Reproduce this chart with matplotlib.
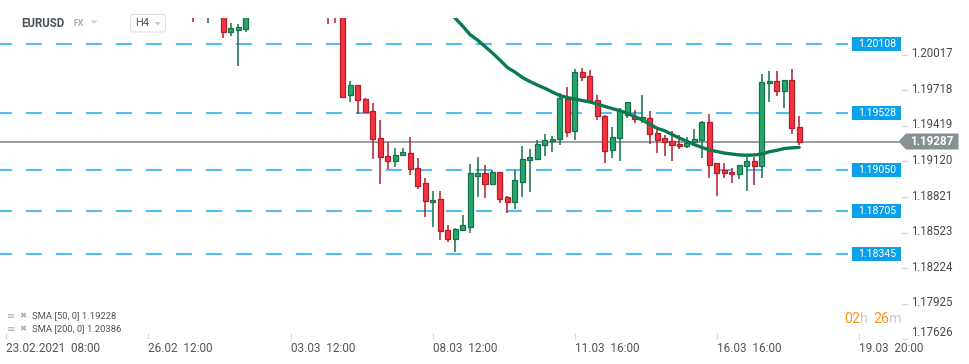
"""
EURUSD H4 candlestick chart with SMA(50), horizontal levels and right price scale.
"""

import matplotlib
matplotlib.use("Agg")
import matplotlib.pyplot as plt
import matplotlib.transforms as mtransforms
from matplotlib.patches import Polygon, Rectangle, FancyBboxPatch

plt.rcParams["font.family"] = ["Roboto", "DejaVu Sans"]

W, H, DPI = 970, 364, 100

# ---- data ---------------------------------------------------------------
SYMBOL   = "EURUSD"
MARKET   = "FX"
INTERVAL = "H4"

OPEN = [1.20450, 1.20335, 1.20340, 1.20430, 1.20400, 1.20206, 1.20226, 1.20231, 1.20390, 1.20480,
        1.20600, 1.20560, 1.20650, 1.20620, 1.20500, 1.20540, 1.20420, 1.20470, 1.20440, 1.20360,
        1.20345, 1.19680, 1.19759, 1.19641, 1.19541, 1.19314, 1.19163, 1.19126, 1.19171, 1.19188,
        1.19062, 1.18936, 1.18777, 1.18802, 1.18542, 1.18471, 1.18547, 1.18572, 1.19000, 1.19020,
        1.18933, 1.19029, 1.18819, 1.18777, 1.18950, 1.19129, 1.19143, 1.19255, 1.19289, 1.19306,
        1.19644, 1.19373, 1.19868, 1.19834, 1.19633, 1.19499, 1.19213, 1.19314, 1.19507, 1.19499,
        1.19465, 1.19482, 1.19356, 1.19314, 1.19289, 1.19263, 1.19247, 1.19280, 1.19297, 1.19448,
        1.19104, 1.19045, 1.19029, 1.19012, 1.19079, 1.19121, 1.19079, 1.19776, 1.19792, 1.19708,
        1.19801, 1.19406]
HIGH = [1.20500, 1.20460, 1.20480, 1.20510, 1.20440, 1.20282, 1.20273, 1.20450, 1.20520, 1.20640,
        1.20710, 1.20690, 1.20780, 1.20660, 1.20590, 1.20570, 1.20500, 1.20520, 1.20480, 1.20420,
        1.20390, 1.19795, 1.19762, 1.19650, 1.19608, 1.19468, 1.19283, 1.19230, 1.19230, 1.19325,
        1.19146, 1.18978, 1.18869, 1.18869, 1.18584, 1.18558, 1.18668, 1.19096, 1.19154, 1.19087,
        1.19045, 1.19032, 1.18827, 1.19045, 1.19249, 1.19222, 1.19297, 1.19347, 1.19331, 1.19692,
        1.19742, 1.19893, 1.19902, 1.19885, 1.19675, 1.19507, 1.19406, 1.19566, 1.19620, 1.19549,
        1.19675, 1.19541, 1.19381, 1.19339, 1.19373, 1.19339, 1.19322, 1.19389, 1.19457, 1.19515,
        1.19106, 1.19104, 1.19062, 1.19090, 1.19154, 1.19154, 1.19851, 1.19876, 1.19876, 1.19804,
        1.19893, 1.19499]
LOW = [1.20290, 1.20330, 1.20282, 1.20360, 1.20156, 1.20173, 1.19921, 1.20206, 1.20350, 1.20440,
       1.20530, 1.20510, 1.20580, 1.20470, 1.20420, 1.20380, 1.20360, 1.20340, 1.20273, 1.20282,
       1.19661, 1.19621, 1.19520, 1.19535, 1.19143, 1.18933, 1.19059, 1.19076, 1.19169, 1.19008,
       1.18891, 1.18656, 1.18572, 1.18463, 1.18446, 1.18362, 1.18538, 1.18521, 1.18824, 1.18815,
       1.18930, 1.18773, 1.18689, 1.18723, 1.18824, 1.18866, 1.19138, 1.19163, 1.19196, 1.19255,
       1.19322, 1.19297, 1.19792, 1.19622, 1.19465, 1.19104, 1.19146, 1.19121, 1.19482, 1.19440,
       1.19440, 1.19263, 1.19188, 1.19163, 1.19121, 1.19222, 1.19230, 1.19278, 1.19146, 1.18978,
       1.18827, 1.18978, 1.18936, 1.18970, 1.18869, 1.18919, 1.18978, 1.19616, 1.19666, 1.19566,
       1.19347, 1.19255]
CLOSE = [1.20335, 1.20420, 1.20430, 1.20400, 1.20206, 1.20237, 1.20248, 1.20390, 1.20480, 1.20600,
         1.20560, 1.20650, 1.20620, 1.20500, 1.20540, 1.20420, 1.20470, 1.20380, 1.20360, 1.20340,
         1.19663, 1.19759, 1.19633, 1.19537, 1.19306, 1.19154, 1.19126, 1.19171, 1.19196, 1.19054,
         1.18916, 1.18785, 1.18793, 1.18533, 1.18471, 1.18555, 1.18584, 1.19020, 1.19020, 1.18933,
         1.19029, 1.18807, 1.18777, 1.18961, 1.19138, 1.19154, 1.19263, 1.19297, 1.19306, 1.19650,
         1.19364, 1.19868, 1.19826, 1.19625, 1.19499, 1.19205, 1.19322, 1.19549, 1.19616, 1.19473,
         1.19490, 1.19347, 1.19297, 1.19280, 1.19255, 1.19247, 1.19272, 1.19306, 1.19448, 1.19087,
         1.19020, 1.19020, 1.19012, 1.19087, 1.19121, 1.19079, 1.19784, 1.19792, 1.19708, 1.19801,
         1.19398, 1.19287]

SMA50_START = 34
SMA50 = [1.20391, 1.20324, 1.20257, 1.20185, 1.20139, 1.20085, 1.20030, 1.19971, 1.19908, 1.19870,
         1.19824, 1.19791, 1.19761, 1.19734, 1.19703, 1.19673, 1.19656, 1.19644, 1.19631, 1.19619,
         1.19602, 1.19582, 1.19564, 1.19547, 1.19524, 1.19497, 1.19468, 1.19434, 1.19398, 1.19378,
         1.19346, 1.19316, 1.19289, 1.19260, 1.19238, 1.19216, 1.19203, 1.19190, 1.19182, 1.19174,
         1.19172, 1.19174, 1.19182, 1.19201, 1.19213, 1.19228, 1.19234, 1.19238]

LEVELS = [1.20108, 1.19528, 1.19050, 1.18705, 1.18345]
YTICKS = [1.20017, 1.19718, 1.19419, 1.19120, 1.18821, 1.18523, 1.18224, 1.17925, 1.17626]
XTICK_POS = [-25, -6, 13, 32, 51, 70, 89]
XTICK_LABELS = ["23.02.2021  08:00", "26.02  12:00", "03.03  12:00", "08.03  12:00",
                "11.03  16:00", "16.03  16:00", "19.03  20:00"]
LEGEND_ROWS = ["SMA [50, 0] 1.19228", "SMA [200, 0] 1.20386"]
COUNTDOWN = [("02", "#f7941d"), ("h", "#c5cacd"), ("26", "#f7941d"), ("m", "#c5cacd")]

# ---- style --------------------------------------------------------------
X_MIN, X_MAX = -25.84, 95.15
Y_MIN, Y_MAX = 1.17629, 1.20324
BODY_W = 0.67

C_UP, C_UP_EDGE = "#27a66b", "#16704a"
C_DN, C_DN_EDGE = "#f5333f", "#b01e2c"
C_SMA   = "#0c7a51"
C_LEVEL = "#52bdf2"
C_LBOX  = "#0ca0ea"
C_LAST  = "#879093"
C_TEXT  = "#4a4a4a"


def main():
    fig = plt.figure(figsize=(W / DPI, H / DPI), dpi=DPI)
    fig.patch.set_facecolor("white")
    PX = mtransforms.Affine2D().scale(1 / W, -1 / H).translate(0, 1) + fig.transFigure

    ax = fig.add_axes([0, 1 - 339 / H, 905 / W, 321 / H])
    ax.set_xlim(X_MIN, X_MAX)
    ax.set_ylim(Y_MIN, Y_MAX)
    for s in ax.spines.values():
        s.set_visible(False)

    def level_px(v):
        return H - ax.transData.transform((0, v))[1]

    # horizontal levels
    ax.hlines(LEVELS, 0, 848 / 905, transform=ax.get_yaxis_transform(),
              colors=C_LEVEL, lw=1.5, linestyles=[(2, (7.7, 6.7))], zorder=1)
    ax.axhline(CLOSE[-1], color=C_LAST, lw=1.2, zorder=1.5)

    # candles
    xs = list(range(len(OPEN)))
    up = [c >= o for o, c in zip(OPEN, CLOSE)]
    ax.vlines(xs, LOW, HIGH, colors=[C_UP_EDGE if u else C_DN_EDGE for u in up], lw=1.1, zorder=2)
    ax.bar(xs, [abs(c - o) for o, c in zip(OPEN, CLOSE)],
           bottom=[min(o, c) for o, c in zip(OPEN, CLOSE)], width=BODY_W,
           color=[C_UP if u else C_DN for u in up],
           edgecolor=[C_UP_EDGE if u else C_DN_EDGE for u in up], lw=0.9, zorder=3)

    # SMA 50
    ax.plot(range(SMA50_START, SMA50_START + len(SMA50)), SMA50, color=C_SMA, lw=2.4,
            solid_capstyle="round", zorder=4)

    # x axis
    ax.set_xticks(XTICK_POS)
    ax.set_xticklabels(XTICK_LABELS, ha="left")
    ax.tick_params(axis="x", direction="in", length=4, color="#d5d9db", labelsize=8.5,
                   labelcolor="#555555", pad=2)
    ax.set_yticks([])

    # right price scale
    for v in YTICKS:
        y = min(level_px(v) - 1, 333)
        fig.add_artist(plt.Line2D([902, 907], [level_px(v), level_px(v)], transform=PX,
                                  color="#d5d9db", lw=1))
        fig.text(911, y, f"{v:.5f}", transform=PX, fontsize=8.3, color=C_TEXT, va="center")

    for v in LEVELS:
        y = level_px(v)
        fig.add_artist(Rectangle((852.5, y - 7.2), 48.5, 14.4, transform=PX, fc=C_LBOX, ec="none"))
        fig.text(876.8, y, f"{v:.5f}", transform=PX, fontsize=7.6, color="white",
                 ha="center", va="center")

    y = level_px(CLOSE[-1])
    fig.add_artist(Polygon([(898.5, y), (906, y - 8), (958.5, y - 8), (958.5, y + 8), (906, y + 8)],
                           closed=True, transform=PX, fc=C_LAST, ec="none"))
    fig.text(932, y, f"{CLOSE[-1]:.5f}", transform=PX, fontsize=8.4, fontweight="bold",
             color="white", ha="center", va="center")

    # header
    fig.text(21, 23.5, SYMBOL, transform=PX, fontsize=8.3, fontweight="bold", color="#4b5358", va="center")
    fig.text(74, 24, MARKET, transform=PX, fontsize=6.3, fontweight="bold", color="#a9b1b6", va="center")
    fig.add_artist(Polygon([(90.5, 20.5), (97.5, 20.5), (94, 24)], transform=PX, fc="#c8cdd0", ec="none"))
    fig.add_artist(FancyBboxPatch((130.5, 14.5), 35, 17.5, boxstyle="round,pad=0,rounding_size=3",
                                  transform=PX, fc="white", ec="#dfe3e5", lw=0.8))
    fig.text(135.5, 23.5, INTERVAL, transform=PX, fontsize=8, color="#555555", va="center")
    fig.add_artist(Polygon([(154.5, 22), (161, 22), (157.75, 25.5)], transform=PX, fc="#c8cdd0", ec="none"))

    # indicator legend
    for i, row in enumerate(LEGEND_ROWS):
        yy = 316 + i * 13
        fig.text(7, yy, "≡", transform=PX, fontsize=7, color="#a7aeb2", va="center",
                 family="DejaVu Sans")
        fig.text(19, yy, "✖", transform=PX, fontsize=6, color="#a7aeb2", va="center",
                 family="DejaVu Sans")
        fig.text(32, yy, row, transform=PX, fontsize=6.8, color="#555555", va="center")

    # candle countdown
    for (txt, col), xx in zip(COUNTDOWN, [844, 860.5, 873, 889.3]):
        fig.text(xx, 319, txt, transform=PX, fontsize=10.3, color=col, va="center")

    fig.savefig("out.png", dpi=DPI, facecolor="white")


if __name__ == "__main__":
    main()
